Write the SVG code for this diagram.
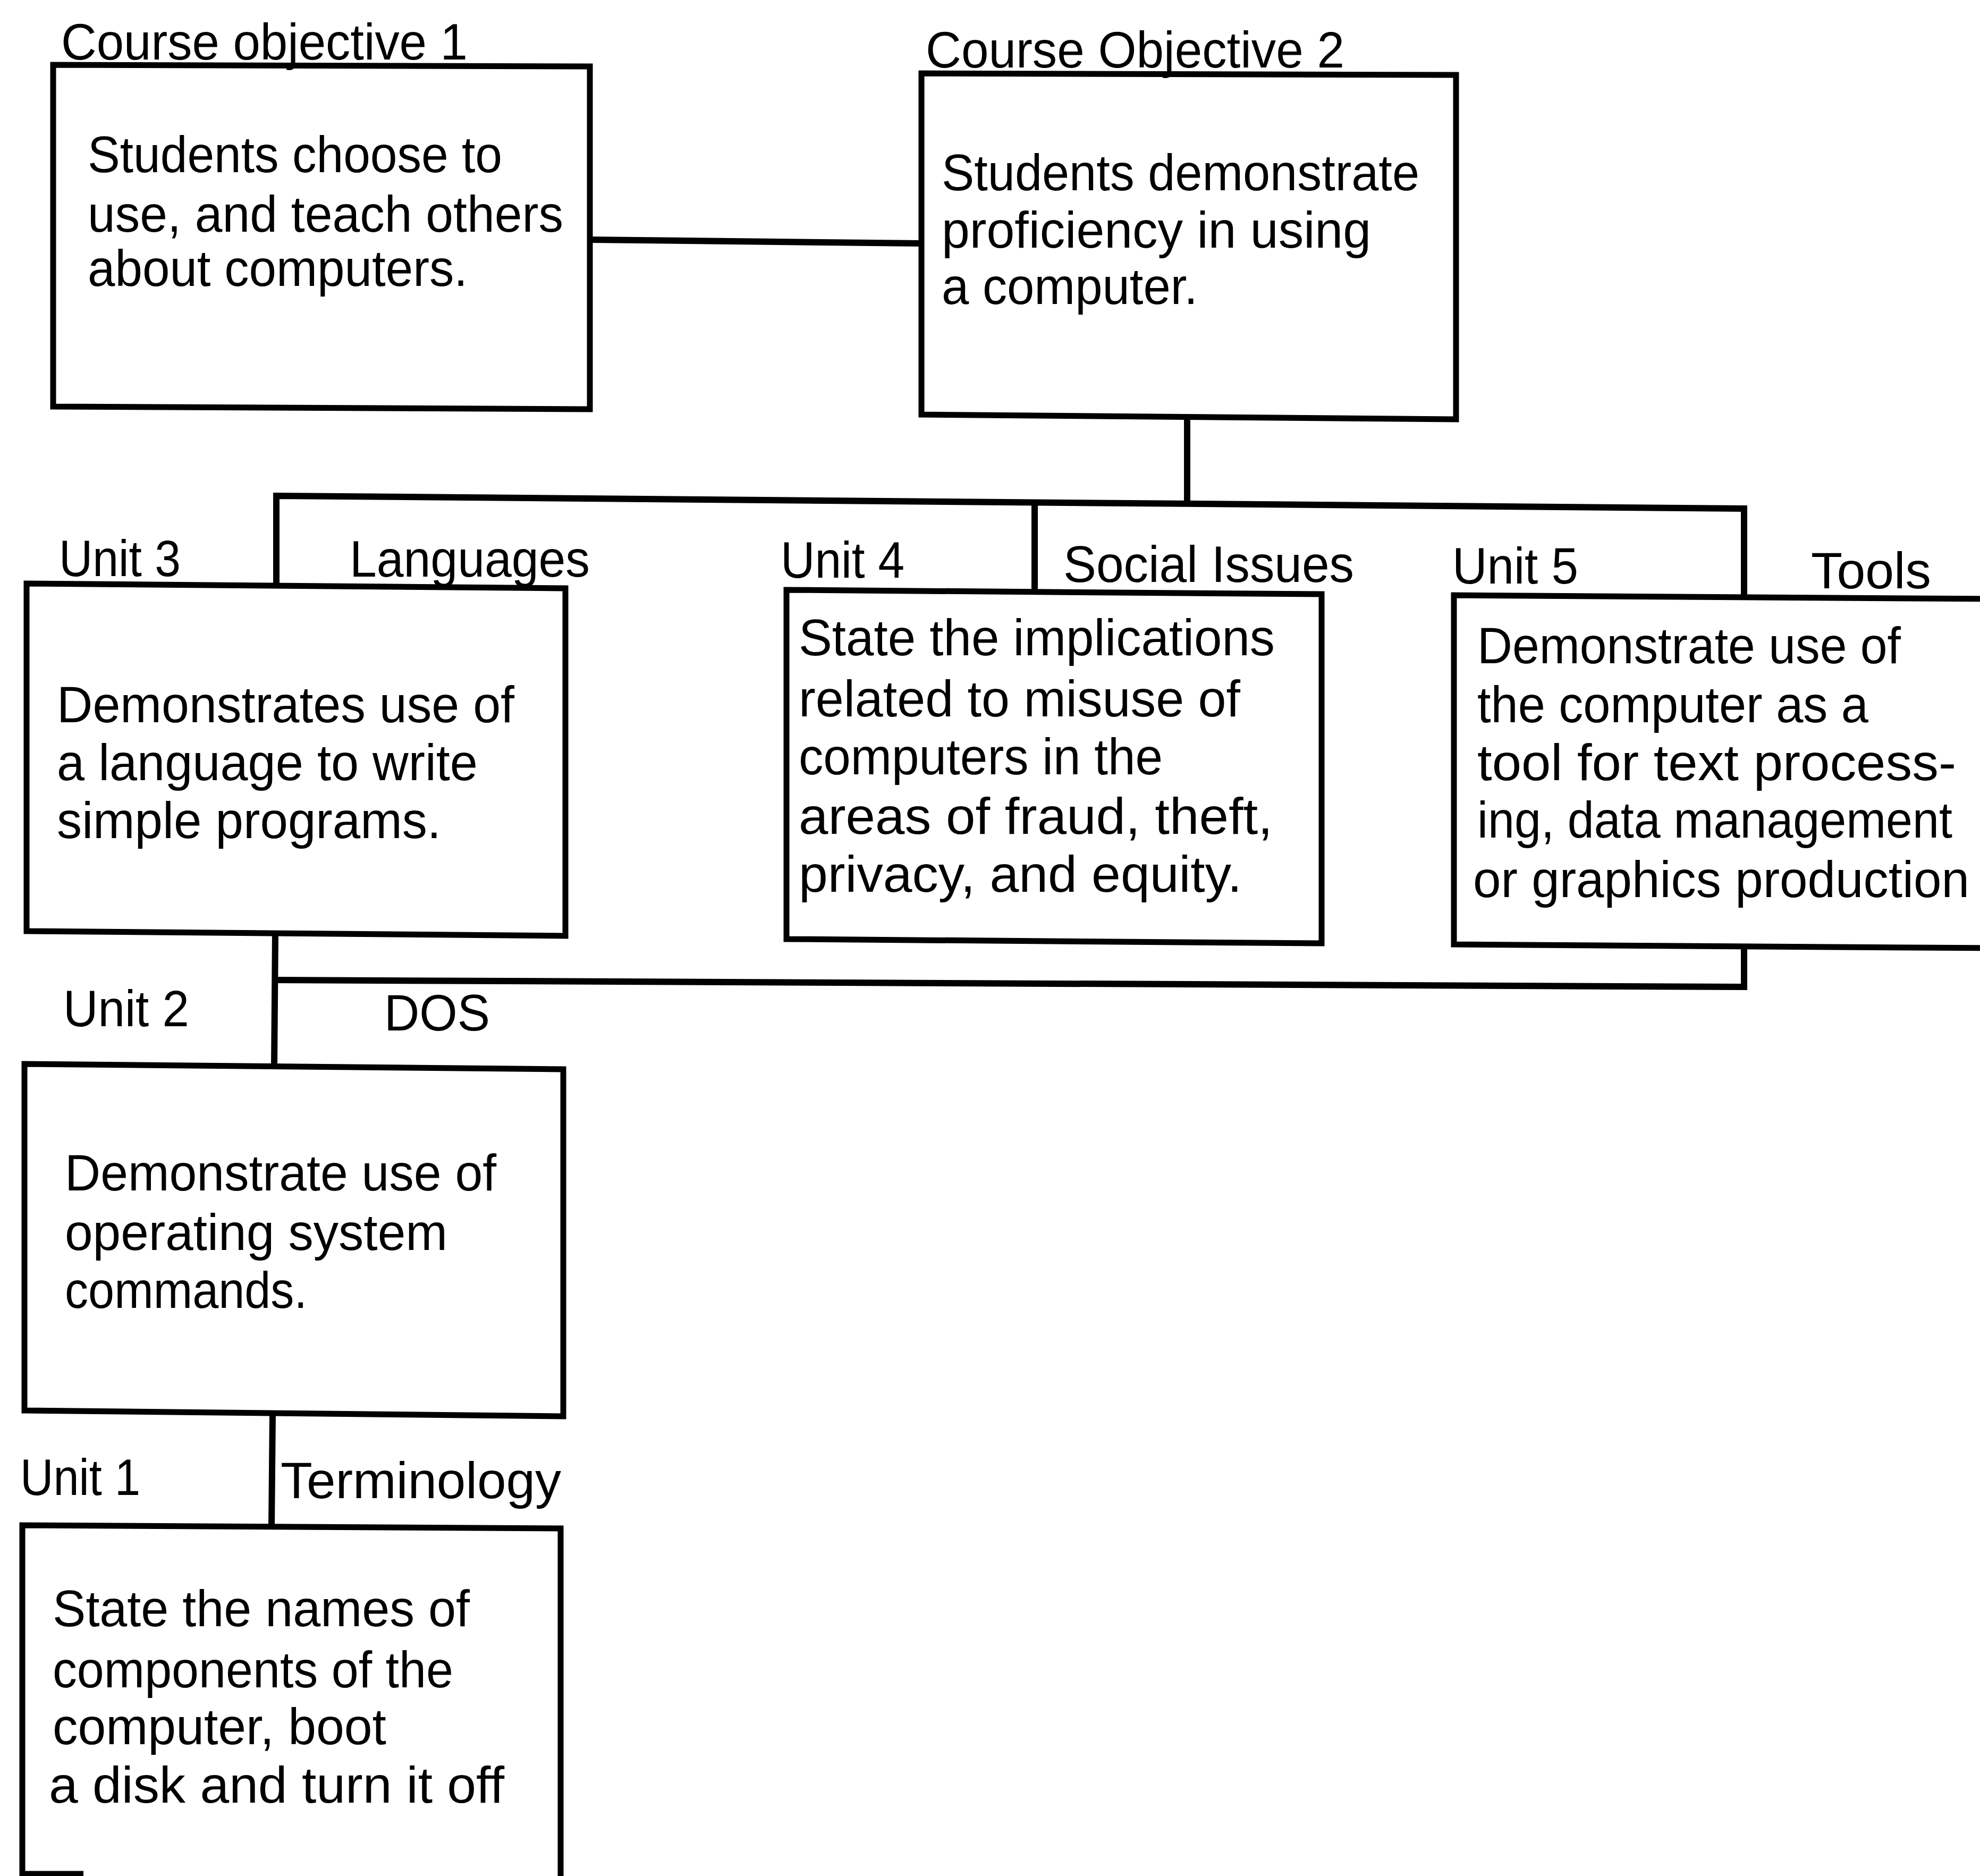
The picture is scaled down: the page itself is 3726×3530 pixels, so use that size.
<svg xmlns="http://www.w3.org/2000/svg" width="3726" height="3530" viewBox="0 0 3726 3530">
<style>
.box{fill:none;stroke:#000;stroke-width:11;stroke-linejoin:miter}
.con{fill:none;stroke:#000;stroke-width:12}
text{font-family:"Liberation Sans",Arial,sans-serif;font-size:97px;fill:#000}
</style>
<rect width="3726" height="3530" fill="#fff"/>
<g id="connectors">
<path class="con" d="M1110,451 L1734,458"/>
<path class="con" d="M2234,786 L2234,945"/>
<path class="con" d="M520,1100 L520,933 L3282,957 L3282,1122"/>
<path class="con" d="M1947,945 L1947,1110"/>
<path class="con" d="M3282,1783 L3282,1857 L518,1844"/>
<path class="con" d="M518,1757 L516,2005"/>
<path class="con" d="M513,2660 L511,2873"/>
</g>
<g id="co1">
<polygon class="box" points="100,122 1110,125 1110,770 100,765"/>
<text x="115" y="112" textLength="765" lengthAdjust="spacingAndGlyphs">Course objective 1</text>
<text x="165" y="324" textLength="780" lengthAdjust="spacingAndGlyphs">Students choose to</text>
<text x="165" y="436" textLength="895" lengthAdjust="spacingAndGlyphs">use, and teach others</text>
<text x="165" y="538" textLength="715" lengthAdjust="spacingAndGlyphs">about computers.</text>
</g>
<g id="co2">
<polygon class="box" points="1734,138 2740,141 2740,789 1734,780"/>
<text x="1742" y="127" textLength="788" lengthAdjust="spacingAndGlyphs">Course Objective 2</text>
<text x="1772" y="358" textLength="899" lengthAdjust="spacingAndGlyphs">Students demonstrate</text>
<text x="1772" y="466" textLength="808" lengthAdjust="spacingAndGlyphs">proficiency in using</text>
<text x="1772" y="572" textLength="482" lengthAdjust="spacingAndGlyphs">a computer.</text>
</g>
<g id="unit3">
<polygon class="box" points="50,1098 1064,1107 1064,1761 50,1752"/>
<text x="111" y="1084" textLength="229" lengthAdjust="spacingAndGlyphs">Unit 3</text>
<text x="658" y="1085" textLength="452" lengthAdjust="spacingAndGlyphs">Languages</text>
<text x="107" y="1359" textLength="861" lengthAdjust="spacingAndGlyphs">Demonstrates use of</text>
<text x="107" y="1468" textLength="792" lengthAdjust="spacingAndGlyphs">a language to write</text>
<text x="107" y="1577" textLength="723" lengthAdjust="spacingAndGlyphs">simple programs.</text>
</g>
<g id="unit4">
<polygon class="box" points="1480,1110 2487,1118 2487,1775 1480,1767"/>
<text x="1469" y="1087" textLength="233" lengthAdjust="spacingAndGlyphs">Unit 4</text>
<text x="2001" y="1095" textLength="547" lengthAdjust="spacingAndGlyphs">Social Issues</text>
<text x="1503" y="1233" textLength="896" lengthAdjust="spacingAndGlyphs">State the implications</text>
<text x="1503" y="1348" textLength="831" lengthAdjust="spacingAndGlyphs">related to misuse of</text>
<text x="1503" y="1457" textLength="685" lengthAdjust="spacingAndGlyphs">computers in the</text>
<text x="1503" y="1569" textLength="892" lengthAdjust="spacingAndGlyphs">areas of fraud, theft,</text>
<text x="1503" y="1678" textLength="834" lengthAdjust="spacingAndGlyphs">privacy, and equity.</text>
</g>
<g id="unit5">
<polygon class="box" points="2736,1120 3745,1127 3745,1784 2736,1777"/>
<text x="2733" y="1098" textLength="237" lengthAdjust="spacingAndGlyphs">Unit 5</text>
<text x="3408" y="1107" textLength="226" lengthAdjust="spacingAndGlyphs">Tools</text>
<text x="2780" y="1248" textLength="797" lengthAdjust="spacingAndGlyphs">Demonstrate use of</text>
<text x="2780" y="1359" textLength="736" lengthAdjust="spacingAndGlyphs">the computer as a</text>
<text x="2780" y="1468" textLength="901" lengthAdjust="spacingAndGlyphs">tool for text process-</text>
<text x="2780" y="1576" textLength="894" lengthAdjust="spacingAndGlyphs">ing, data management</text>
<text x="2772" y="1688" textLength="934" lengthAdjust="spacingAndGlyphs">or graphics production</text>
</g>
<g id="unit2">
<polygon class="box" points="46,2002 1060,2012 1060,2665 46,2654"/>
<text x="119" y="1931" textLength="237" lengthAdjust="spacingAndGlyphs">Unit 2</text>
<text x="723" y="1939" textLength="199" lengthAdjust="spacingAndGlyphs">DOS</text>
<text x="122" y="2240" textLength="812" lengthAdjust="spacingAndGlyphs">Demonstrate use of</text>
<text x="122" y="2352" textLength="720" lengthAdjust="spacingAndGlyphs">operating system</text>
<text x="122" y="2461" textLength="456" lengthAdjust="spacingAndGlyphs">commands.</text>
</g>
<g id="unit1">
<path class="box" d="M42,3545 L42,2870 L1055,2876 L1055,3545"/>
<path class="box" d="M42,3526 L157,3526"/>
<text x="38" y="2813" textLength="226" lengthAdjust="spacingAndGlyphs">Unit 1</text>
<text x="528" y="2819" textLength="528" lengthAdjust="spacingAndGlyphs">Terminology</text>
<text x="99" y="3060" textLength="785" lengthAdjust="spacingAndGlyphs">State the names of</text>
<text x="99" y="3175" textLength="754" lengthAdjust="spacingAndGlyphs">components of the</text>
<text x="99" y="3282" textLength="628" lengthAdjust="spacingAndGlyphs">computer, boot</text>
<text x="92" y="3392" textLength="857" lengthAdjust="spacingAndGlyphs">a disk and turn it off</text>
</g>
</svg>
